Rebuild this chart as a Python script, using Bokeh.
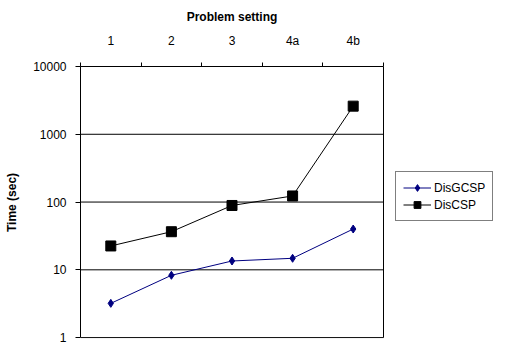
from bokeh.plotting import figure
from bokeh.models import Range1d, FixedTicker, CustomJSTickFormatter, Legend, LegendItem
from bokeh.embed import file_html
from bokeh.resources import INLINE

categories = ["1", "2", "3", "4a", "4b"]
disgcsp = [3.2, 8.3, 13.5, 14.8, 40]
discsp = [22.5, 36.5, 89, 123, 2600]
y_ticks = [1, 10, 100, 1000, 10000]

positions = list(range(1, len(categories) + 1))
boundaries = [i + 0.5 for i in range(len(categories) + 1)]
x_lo, x_hi = boundaries[0], boundaries[-1]
y_lo, y_hi = y_ticks[0], y_ticks[-1]

FONT = "Liberation Sans"
TITLE = "Problem setting"
TITLE_W = 90.7  # approx. rendered width of the bold 12px title

# frame spans the plot area plus the legend area on the right
W, H = 494, 344
LEFT, TOP, BOTTOM = 80, 55, 6
PLOT_PX = 303
frame_px = W - LEFT
x_end = x_lo + len(categories) * frame_px / PLOT_PX

p = figure(width=W, height=H, output_backend="svg", toolbar_location=None,
           x_range=Range1d(x_lo, x_end), y_range=Range1d(y_lo * 0.97, y_hi),
           y_axis_type="log", x_axis_location="above",
           min_border_left=LEFT, min_border_right=0, min_border_top=TOP,
           min_border_bottom=BOTTOM)

p.background_fill_color = "white"
p.border_fill_color = "white"
p.outline_line_color = None

# title centred over the plot area (not the whole frame)
p.title.text = TITLE
p.title.align = "left"
p.title.offset = PLOT_PX / 2 - TITLE_W / 2
p.title.standoff = 14
p.title.text_font = FONT
p.title.text_font_style = "bold"
p.title.text_font_size = "12px"
p.title.text_color = "black"

# x axis (top)
xa = p.xaxis[0]
xa.bounds = (x_lo, x_hi)
xa.ticker = FixedTicker(ticks=positions, minor_ticks=boundaries)
xa.major_label_overrides = {pos: cat for pos, cat in zip(positions, categories)}
xa.major_tick_line_color = None
xa.major_tick_out = 0
xa.major_tick_in = 0
xa.minor_tick_line_color = "black"
xa.minor_tick_out = 4
xa.minor_tick_in = 0
xa.axis_line_color = "black"
xa.major_label_text_font = FONT
xa.major_label_text_font_size = "12px"
xa.major_label_text_color = "black"
xa.major_label_standoff = 15

# y axis
ya = p.yaxis[0]
ya.bounds = (y_lo, y_hi)
ya.ticker = FixedTicker(ticks=y_ticks)
ya.formatter = CustomJSTickFormatter(code="return Math.round(tick).toString();")
ya.major_tick_out = 5
ya.major_tick_in = 0
ya.major_tick_line_color = "black"
ya.minor_tick_line_color = None
ya.axis_line_color = "black"
ya.major_label_text_font = FONT
ya.major_label_text_font_size = "12px"
ya.major_label_text_color = "black"
ya.major_label_standoff = 9
ya.axis_label = "Time (sec)"
ya.axis_label_text_font = FONT
ya.axis_label_text_font_style = "bold"
ya.axis_label_text_font_size = "12px"
ya.axis_label_text_color = "black"
ya.axis_label_standoff = 11

p.xgrid.visible = False
p.ygrid.visible = False

# gridlines and plot-area border limited to the category span
n = len(y_ticks)
p.segment(x0=[x_lo] * n, y0=y_ticks, x1=[x_hi] * n, y1=y_ticks,
          line_color="black", line_width=1)
p.segment(x0=[x_hi], y0=[y_lo], x1=[x_hi], y1=[y_hi],
          line_color="black", line_width=1)

l1 = p.line(positions, disgcsp, line_color="#000080", line_width=1)
s1 = p.scatter(positions, disgcsp, marker="diamond", size=8,
               fill_color="#000080", line_color="#000080")
l2 = p.line(positions, discsp, line_color="black", line_width=1)
s2 = p.scatter(positions, discsp, marker="square", size=10,
               fill_color="black", line_color="black")

legend = Legend(items=[LegendItem(label="DisGCSP", renderers=[l1, s1]),
                       LegendItem(label="DisCSP", renderers=[l2, s2])],
                location=(PLOT_PX + 12, 117))
legend.border_line_color = "black"
legend.border_line_width = 1
legend.background_fill_color = "white"
legend.padding = 7
legend.spacing = 0
legend.margin = 0
legend.glyph_width = 28
legend.glyph_height = 17
legend.label_height = 17
legend.label_standoff = 3
legend.label_text_font = FONT
legend.label_text_font_size = "12px"
legend.label_text_color = "black"
p.add_layout(legend)

open("out.html", "w").write(file_html(p, INLINE))
